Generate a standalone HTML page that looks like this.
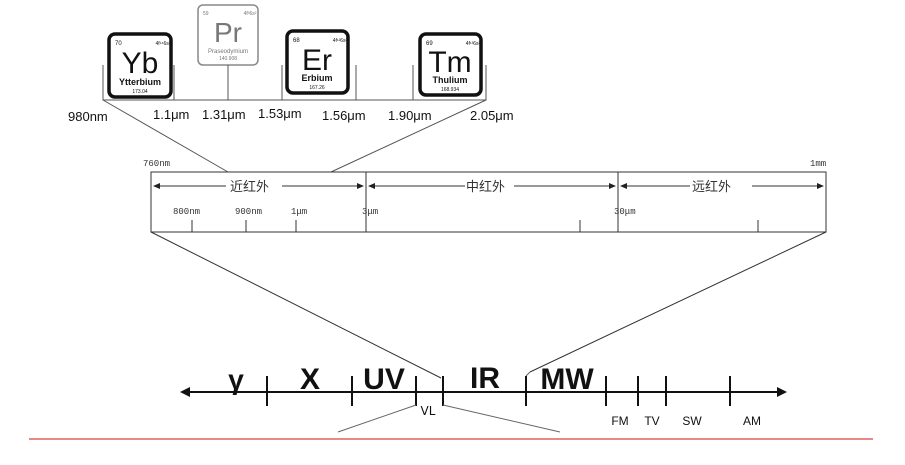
<!DOCTYPE html>
<html><head><meta charset="utf-8"><style>
html,body{margin:0;padding:0;background:#fff;}
svg{display:block;}
text{font-family:"Liberation Sans","Noto Sans CJK SC",sans-serif;}
.m{font-family:"Liberation Mono",monospace;}
</style></head><body>
<svg width="905" height="465" viewBox="0 0 905 465" xmlns="http://www.w3.org/2000/svg">
<g fill="none" stroke="#111" stroke-width="3.5">
<rect x="109" y="34" width="62" height="63" rx="6"/>
<rect x="287" y="31" width="61" height="62" rx="6"/>
<rect x="420" y="34" width="61" height="61" rx="6"/>
</g>
<rect x="198" y="5" width="60" height="60" rx="5" fill="none" stroke="#888" stroke-width="1.5"/>
<g fill="#111" text-anchor="middle">
<text x="115" y="45" font-size="6" text-anchor="start">70</text><text x="163" y="45" font-size="5">4f¹⁴6s²</text>
<text x="140" y="73" font-size="30">Yb</text><text x="140" y="85" font-size="9" font-weight="bold">Ytterbium</text><text x="140" y="93" font-size="5">173.04</text>
<text x="293" y="42" font-size="6" text-anchor="start">68</text><text x="340" y="42" font-size="5">4f¹²6s²</text>
<text x="317" y="70" font-size="30">Er</text><text x="317" y="81" font-size="9" font-weight="bold">Erbium</text><text x="317" y="89" font-size="5">167.26</text>
<text x="426" y="45" font-size="6" text-anchor="start">69</text><text x="473" y="45" font-size="5">4f¹³6s²</text>
<text x="450" y="72" font-size="30">Tm</text><text x="450" y="83" font-size="9" font-weight="bold">Thulium</text><text x="450" y="91" font-size="5">168.934</text>
</g>
<g fill="#777" text-anchor="middle">
<text x="203" y="15" font-size="5" text-anchor="start">59</text><text x="250" y="15" font-size="5">4f³6s²</text>
<text x="228" y="42" font-size="28">Pr</text><text x="228" y="53" font-size="6">Praseodymium</text><text x="228" y="60" font-size="5">140.908</text>
</g>
<g stroke="#555" stroke-width="1" fill="none">
<path d="M103 65V100H486V65M174 65V100M228 65V100M282 65V100M356 65V100M413 65V100"/>
<path d="M103 100L228 172M486 100L331 172"/>
</g>
<g fill="#111" font-size="13">
<text x="68" y="121">980nm</text><text x="153" y="119">1.1μm</text><text x="202" y="119">1.31μm</text><text x="258" y="118">1.53μm</text><text x="322" y="120">1.56μm</text><text x="388" y="120">1.90μm</text><text x="470" y="120">2.05μm</text>
</g>
<g stroke="#333" stroke-width="1" fill="none">
<rect x="151" y="172" width="675" height="60"/>
<path d="M366 172V232M618 172V232"/>
<path d="M192 220V232M246 220V232M296 220V232M580 220V232M758 220V232"/>
<path d="M155 186H226M282 186H362M370 186H465M514 186H614M622 186H690M752 186H822"/>
<path d="M151 232L441 378M826 232L530 372"/>
</g>
<g fill="#222">
<path d="M153 186l7-3v6zM364 186l-7-3v6zM368 186l7-3v6zM616 186l-7-3v6zM620 186l7-3v6zM824 186l-7-3v6z"/>
</g>
<g fill="#333">
<text x="143" y="166" font-size="9" class="m">760nm</text>
<text x="810" y="166" font-size="9" class="m">1mm</text>
<text x="230" y="191" font-size="13">近红外</text>
<text x="466" y="191" font-size="13">中红外</text>
<text x="692" y="191" font-size="13">远红外</text>
<g font-size="9">
<text class="m" x="173" y="214">800nm</text><text class="m" x="235" y="214">900nm</text><text class="m" x="291" y="214">1μm</text><text class="m" x="362" y="214">3μm</text><text class="m" x="614" y="214">30μm</text>
</g>
</g>
<g stroke="#111" stroke-width="2" fill="none">
<path d="M186 392H780"/>
<path d="M267 376V406M352 376V406M416 376V406M443 376V406M526 376V406M606 376V406M638 376V406M666 376V406M730 376V406"/>
</g>
<path d="M180 392l10-5v10zM787 392l-10-5v10z" fill="#111"/>
<g stroke="#666" stroke-width="1" fill="none">
<path d="M416 405L338 432M443 405L560 432M526 376L530 372"/>
</g>
<g fill="#111" font-size="30" text-anchor="middle" font-weight="bold">
<text x="236" y="389" font-size="28">γ</text>
<text x="310" y="389">X</text><text x="384" y="389">UV</text><text x="485" y="388">IR</text><text x="567" y="389">MW</text>
</g>
<g fill="#111" font-size="12" text-anchor="middle">
<text x="428" y="415" style="font-family:'DejaVu Sans',sans-serif">VL</text><text x="620" y="425">FM</text><text x="652" y="425">TV</text><text x="692" y="425">SW</text><text x="752" y="425">AM</text>
</g>
<path d="M29 439H873" stroke="#e06060" stroke-width="1.5"/>
</svg>
</body></html>
